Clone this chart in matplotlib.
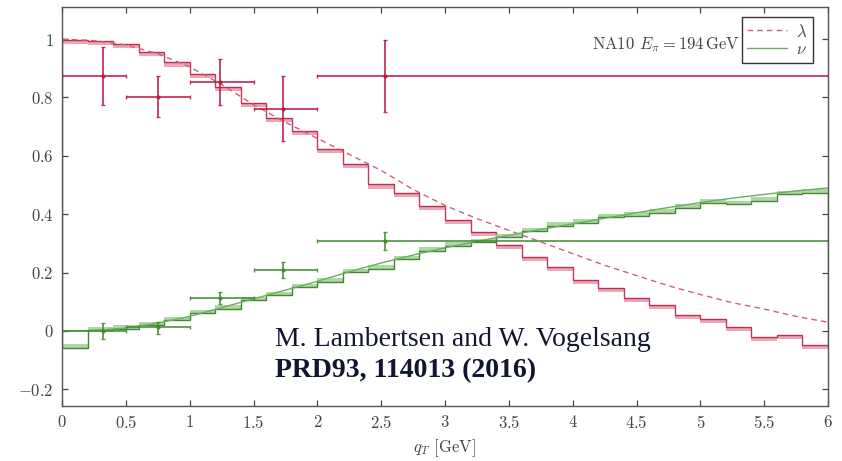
import numpy as np
import matplotlib
matplotlib.use("Agg")
import matplotlib.pyplot as plt
from matplotlib.ticker import FuncFormatter

plt.rcParams['font.family'] = 'serif'
plt.rcParams['font.serif'] = ['cmr10', 'DejaVu Serif']
plt.rcParams['mathtext.fontset'] = 'cm'
plt.rcParams['axes.unicode_minus'] = False

# bin edges of the histograms (0.2 GeV bins)
edges = np.round(np.arange(0, 6.01, 0.2), 2)

lam_hist = [0.998, 0.993, 0.984, 0.955, 0.92, 0.88, 0.835, 0.78, 0.73, 0.685,
            0.623, 0.571, 0.502, 0.472, 0.428, 0.38, 0.34, 0.295, 0.255, 0.218,
            0.175, 0.146, 0.112, 0.089, 0.055, 0.04, 0.015, -0.019, -0.015, -0.048]
nu_hist = [-0.057, 0.003, 0.008, 0.02, 0.037, 0.06, 0.077, 0.105, 0.122, 0.15,
           0.168, 0.202, 0.213, 0.245, 0.275, 0.292, 0.304, 0.321, 0.341, 0.36,
           0.37, 0.389, 0.394, 0.405, 0.423, 0.44, 0.435, 0.447, 0.468, 0.474]

# smooth curves
q_curve = [0, 0.25, 0.5, 0.75, 1.0, 1.25, 1.5, 1.75, 2.0, 2.25, 2.5, 2.75, 3.0,
           3.25, 3.5, 3.75, 4.0, 4.25, 4.5, 4.75, 5.0, 5.25, 5.5, 5.75, 6.0]
lam_curve = [1.0, 0.995, 0.98, 0.95, 0.905, 0.845, 0.775, 0.715, 0.66, 0.605,
             0.55, 0.485, 0.43, 0.385, 0.345, 0.305, 0.265, 0.225, 0.19, 0.155,
             0.125, 0.097, 0.075, 0.05, 0.03]
nu_curve = [0, 0.002, 0.01, 0.027, 0.05, 0.08, 0.11, 0.14, 0.17, 0.203, 0.233,
            0.26, 0.285, 0.307, 0.328, 0.348, 0.367, 0.386, 0.405, 0.423, 0.44,
            0.455, 0.468, 0.48, 0.49]

# NA10 data
q_data = [0.32, 0.75, 1.24, 1.73, 2.53]
q_lo = [0.0, 0.5, 1.0, 1.5, 2.0]
q_hi = [0.5, 1.0, 1.5, 2.0, 6.0]
lam_data = [0.874, 0.801, 0.852, 0.762, 0.874]
lam_up = [0.974, 0.874, 0.932, 0.874, 0.997]
lam_dn = [0.773, 0.733, 0.773, 0.652, 0.749]
nu_data = [0.0, 0.012, 0.113, 0.21, 0.308]
nu_up = [0.026, 0.031, 0.134, 0.238, 0.338]
nu_dn = [-0.026, -0.009, 0.094, 0.182, 0.279]

red = '#b8163c'
red_light = '#eaa8b6'
green = '#3f8a2e'
green_light = '#9ccc92'

fig = plt.figure(figsize=(8.42, 4.61), dpi=100)
ax = fig.add_axes([62 / 842, 1 - 406 / 461, (828 - 62) / 842, (406 - 7) / 461])

# histograms with a pale band
lam_h = np.array(lam_hist)
nu_h = np.array(nu_hist)
ax.stairs(lam_h, edges, baseline=lam_h - 0.014, fill=True, color=red_light, lw=0)
ax.stairs(lam_h, edges, color=red, lw=1.0, alpha=0.85)
ax.stairs(nu_h, edges, baseline=nu_h + 0.012, fill=True, color=green_light, lw=0, alpha=0.8)
ax.stairs(nu_h, edges, color=green, lw=1.0)

ax.plot(q_curve, lam_curve, ls=(0, (4, 3)), color='#d0607a', lw=1.0, label=r'$\lambda$')
ax.plot(q_curve, nu_curve, ls='-', color='#6aae5e', lw=1.0, label=r'$\nu$')

q = np.array(q_data)
xerr = [q - np.array(q_lo), np.array(q_hi) - q]
ld = np.array(lam_data)
nd = np.array(nu_data)
ax.errorbar(q, ld, xerr=xerr, yerr=[ld - np.array(lam_dn), np.array(lam_up) - ld],
            fmt='o', ms=2, color=red, ecolor=red, elinewidth=1.3, capsize=1.5, alpha=0.85)
ax.errorbar(q, nd, xerr=xerr, yerr=[nd - np.array(nu_dn), np.array(nu_up) - nd],
            fmt='o', ms=2, color=green, ecolor=green, elinewidth=1.3, capsize=1.5, alpha=0.85)

ax.set_xlim(0, 6)
ax.set_ylim(-0.257, 1.11)
ax.set_xticks(np.arange(0, 6.01, 0.5))
ax.set_yticks([-0.2, 0, 0.2, 0.4, 0.6, 0.8, 1.0])
fmt = FuncFormatter(lambda v, p: '$%g$' % round(v, 2))
ax.xaxis.set_major_formatter(fmt)
ax.yaxis.set_major_formatter(fmt)
ax.tick_params(direction='in', top=True, right=True, length=4, width=0.9,
               labelsize=12, labelcolor='#444444', color='#444444', pad=6)
for s in ax.spines.values():
    s.set_color('#555555')
    s.set_linewidth(1.0)

ax.set_xlabel(r'$q_T$ [GeV]', fontsize=12, color='#444444', labelpad=4)

leg = ax.legend(loc='upper right', bbox_to_anchor=(0.980, 0.975), borderaxespad=0,
                frameon=True, fancybox=False, edgecolor='black', fontsize=12,
                handlelength=2.4, borderpad=0.35, labelspacing=0.15,
                handletextpad=0.5)
leg.get_frame().set_linewidth(1.0)
for t in leg.get_texts():
    t.set_color('#444444')

ax.text(0.885, 0.907, r'NA10 $E_\pi = 194\,\mathrm{GeV}$', transform=ax.transAxes,
        ha='right', va='center', fontsize=12, color='#444444')

ax.text(1.67, -0.028, 'M. Lambertsen and W. Vogelsang', fontsize=20,
        family='Liberation Serif', color='#10162e', va='center')
ax.text(1.67, -0.135, 'PRD93, 114013 (2016)', fontsize=20, fontweight='bold',
        family='Liberation Serif', color='#10162e', va='center')

fig.savefig('out.png', dpi=100)
